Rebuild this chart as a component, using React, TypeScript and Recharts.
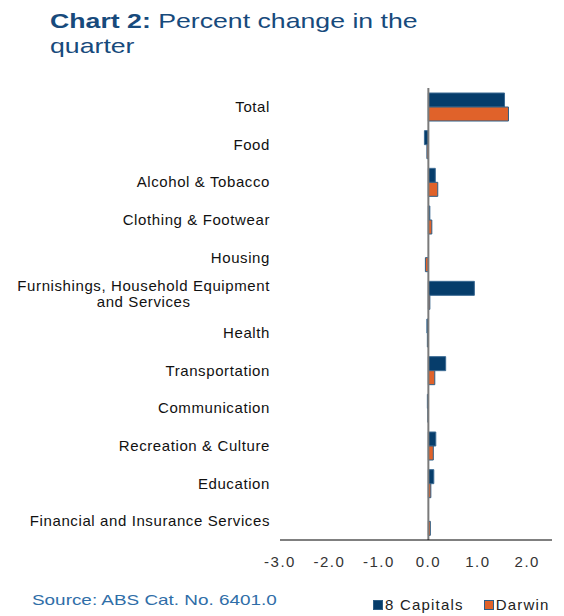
import { Bar, BarChart, ReferenceLine, XAxis, YAxis } from 'recharts';

const categories = [
  'Total',
  'Food',
  'Alcohol & Tobacco',
  'Clothing & Footwear',
  'Housing',
  'Furnishings, Household Equipment|and Services',
  'Health',
  'Transportation',
  'Communication',
  'Recreation & Culture',
  'Education',
  'Financial and Insurance Services'
];
const capitals = [1.54, -0.08, 0.14, 0.03, 0.0, 0.93, -0.03, 0.35, -0.02, 0.15, 0.11, 0.0];
const darwin = [1.62, -0.03, 0.19, 0.07, -0.06, 0.03, -0.02, 0.13, -0.01, 0.1, 0.05, 0.04];
const xTicks = [-3, -2, -1, 0, 1, 2];

const navy = '#063d6b';
const orange = '#e0622a';
const fontFamily = "'Liberation Sans', Arial, sans-serif";
const labelSize = 15;
const labelSpacing = 0.6;

const data = categories.map((name, i) => ({ name, capitals: capitals[i], darwin: darwin[i] }));

function measure(text: string) {
  const ctx = document.createElement('canvas').getContext('2d');
  if (!ctx) return text.length * 8;
  ctx.font = `${labelSize}px ${fontFamily}`;
  return ctx.measureText(text).width + text.length * labelSpacing;
}

function CategoryTick({ x, y, payload }: any) {
  const lines = String(payload.value).split('|');
  const style = { fontFamily, fontSize: labelSize, letterSpacing: labelSpacing };
  if (lines.length === 1) {
    return (
      <text x={x - 2} y={y} dy={5} textAnchor="end" fill="#111" style={style}>
        {lines[0]}
      </text>
    );
  }
  const mid = x - 2 - measure(lines[0]) / 2;
  return (
    <text x={mid} y={y} textAnchor="middle" fill="#111" style={style}>
      {lines.map((line, i) => (
        <tspan key={line} x={mid} dy={i === 0 ? -4 : 16}>
          {line}
        </tspan>
      ))}
    </text>
  );
}

function LegendBox() {
  const items = [
    { label: '8 Capitals', color: navy },
    { label: 'Darwin', color: orange }
  ];
  return (
    <div
      style={{
        position: 'absolute',
        left: 365,
        top: 588,
        display: 'flex',
        gap: 20,
        fontSize: 15,
        lineHeight: '17px',
        letterSpacing: 1.2,
        color: '#222'
      }}
    >
      {items.map((item) => (
        <span key={item.label} style={{ display: 'flex', alignItems: 'center', gap: 2 }}>
          <span
            style={{ width: 8, height: 8, background: item.color, border: '1px solid #2d5e86', display: 'inline-block' }}
          />
          {item.label}
        </span>
      ))}
    </div>
  );
}

export default function App() {
  return (
    <div style={{ position: 'relative', width: 556, height: 608, fontFamily }}>
      <div
        style={{
          position: 'absolute',
          left: 42,
          top: 0,
          color: '#174a7c',
          fontSize: 21,
          lineHeight: '25px',
          whiteSpace: 'nowrap',
          transform: 'scaleX(1.27)',
          transformOrigin: 'left top'
        }}
      >
        <b>Chart 2:</b> Percent change in the
        <br />
        quarter
      </div>
      <BarChart
        layout="vertical"
        width={556}
        height={600}
        data={data}
        margin={{ top: 80, right: 12, bottom: 38, left: 0 }}
        barGap={0}
        barSize={14}
      >
        <XAxis
          type="number"
          domain={[-3, 2.5]}
          ticks={xTicks}
          allowDataOverflow
          tickFormatter={(v: number) => v.toFixed(1)}
          tickLine={false}
          axisLine={{ stroke: '#000', strokeWidth: 1 }}
          tick={{ fill: '#333', fontSize: 15, letterSpacing: 1.5 }}
          tickMargin={10}
          height={30}
        />
        <YAxis
          type="category"
          dataKey="name"
          width={272}
          axisLine={false}
          tickLine={false}
          tick={<CategoryTick />}
          interval={0}
        />
        <Bar dataKey="capitals" name="8 Capitals" fill={navy} stroke="#3b6a93" strokeWidth={1} isAnimationActive={false} />
        <Bar dataKey="darwin" name="Darwin" fill={orange} stroke="#2d5e86" strokeWidth={1} isAnimationActive={false} />
        <ReferenceLine x={0} stroke="#7a7a7a" strokeWidth={2} />
      </BarChart>
      <LegendBox />
      <div
        style={{
          position: 'absolute',
          left: 24,
          top: 583,
          color: '#2f6ea8',
          fontSize: 15,
          lineHeight: '17px',
          whiteSpace: 'nowrap',
          transform: 'scaleX(1.26)',
          transformOrigin: 'left top'
        }}
      >
        Source: ABS Cat. No. 6401.0
      </div>
    </div>
  );
}
